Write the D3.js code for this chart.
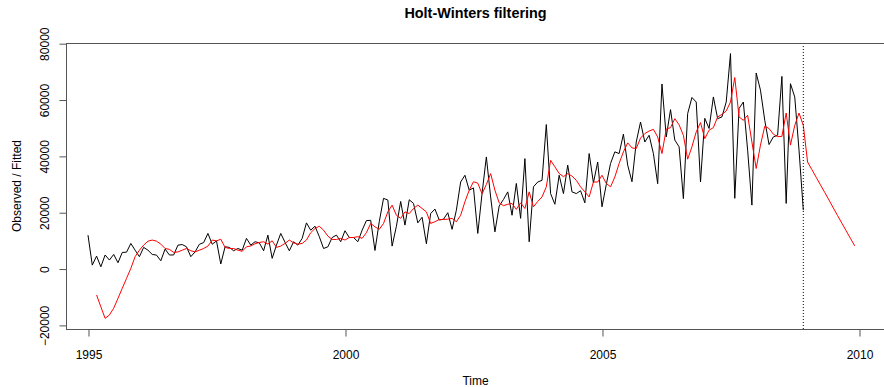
<!DOCTYPE html>
<html>
<head>
<meta charset="utf-8">
<script src="https://cdn.jsdelivr.net/npm/d3@7"></script>
<style>
  html, body { margin: 0; padding: 0; background: #fff; }
  svg { display: block; }
  text { font-family: "Liberation Sans", Arial, sans-serif; fill: #000; }
</style>
</head>
<body>
<svg id="chart" width="884" height="387"></svg>
<script>
// Monthly observations, Jan 1995 – Dec 2008 (one row per year)
const observed = [
  12050, 1400, 4600, 800, 5000, 3200, 5200, 2250, 5900, 6000, 9100, 6700,
  4400, 7700, 6700, 5200, 4950, 2950, 7100, 5000, 5000, 8500, 8700, 7900,
  4400, 6100, 8800, 9400, 12650, 8800, 10000, 1800, 7900, 7700, 6500, 7300,
  6700, 10900, 8500, 9700, 9300, 6500, 12050, 3800, 8500, 12650, 9500, 6500,
  9700, 8500, 10900, 16400, 13800, 15200, 11500, 7300, 7900, 11200, 12050, 9700,
  13600, 11200, 11200, 9700, 13800, 17200, 17300, 6600, 16800, 25100, 24500, 8150,
  15200, 24000, 15600, 24600, 23300, 16400, 18400, 9000, 19700, 21300, 17400, 17700,
  20000, 14100, 20900, 30900, 33300, 28000, 28800, 12650, 26800, 39800, 25600, 13200,
  22400, 24700, 27400, 19100, 30400, 18000, 39200, 9700, 29200, 30900, 31500, 51300,
  26800, 23000, 33300, 26800, 36900, 27400, 26800, 27800, 23500, 41000, 30600, 38000,
  22100, 30000, 37500, 41600, 41000, 47900, 36900, 31000, 45100, 52200, 45100, 47500,
  41000, 30300, 65700, 46900, 56600, 45800, 43400, 25000, 55200, 60900, 59300, 30900,
  53500, 49900, 61100, 53400, 54000, 59300, 76500, 25100, 57000, 59300, 42200, 22700,
  69600, 63500, 52800, 44200, 46900, 47500, 68400, 23300, 65800, 61100, 42200, 20900
];
const observedStart = 1995;

// Holt-Winters fitted values, Mar 1995 – Dec 2008
const fitted = [
  -9200, -13400, -17500, -16300, -13900, -10400, -6850, -3300, 250, 4400,
  6700, 8500, 9900, 10300, 9900, 8850, 7300, 7000, 5900, 6100, 6700, 7300,
  6500, 6100, 6700, 7300, 8150, 10300, 10000, 10600, 7700, 7300, 7300, 6700,
  6300, 7900, 8200, 9000, 9450, 9700, 8850, 10050, 7700, 8150, 9100, 10300,
  9300, 8850, 9100, 10300, 12900, 14400, 15200, 13800, 11700, 10500, 10500, 10900,
  10300, 11200, 11200, 11500, 10900, 12900, 16200, 15000, 14100, 16200, 20300, 22700,
  19100, 18000, 20300, 19700, 21500, 22700, 21500, 20300, 16200, 16800, 17600, 17600,
  17700, 18000, 16800, 19100, 23900, 28000, 31000, 30500, 26700, 30000, 33900, 28000,
  23500, 22500, 23000, 23300, 21200, 23500, 21500, 27400, 22100, 24000, 25600, 29200,
  38600, 36300, 33900, 32800, 33900, 33000, 31500, 29200, 27400, 25600, 30900, 30900,
  33300, 30400, 29200, 32700, 37500, 41600, 44800, 43000, 42800, 46500, 48100, 49000,
  49600, 46900, 41000, 49700, 50200, 53400, 51200, 47500, 39000, 43400, 48700, 52000,
  46300, 49300, 50200, 54000, 54900, 56100, 59300, 68000, 54000, 52800, 54600, 45100,
  35700, 44000, 50700, 49900, 47900, 47000, 47100, 55400, 44000, 51000, 55400, 51000
];
const fittedStart = 1995 + 2 / 12;

// Forecast, Jan 2009 – Dec 2009
const predicted = [38000, 35300, 32600, 29900, 27200, 24500, 21700, 19000, 16300, 13600, 10900, 8260];
const predictedStart = 2009;

const xTicks = [1995, 2000, 2005, 2010];
const yTicks = [-20000, 0, 20000, 40000, 60000, 80000];

const svg = d3.select("#chart");
const plot = { left: 66, right: 885, top: 43, bottom: 329 };

const x = d3.scaleLinear().domain([1994.572, 2010.506]).range([plot.left, plot.right]);
const y = d3.scaleLinear().domain([-21277, 80248]).range([plot.bottom, plot.top]);

const toPoints = (vals, start) => vals.map((v, i) => ({ t: start + i / 12, v }));
const obsPts = toPoints(observed, observedStart);
const fitPts = toPoints(fitted, fittedStart).concat(toPoints(predicted, predictedStart));

const line = d3.line().x(d => x(d.t)).y(d => y(d.v));

// Series
svg.append("path").datum(obsPts)
  .attr("d", line).attr("fill", "none").attr("stroke", "#000").attr("stroke-width", 1);
svg.append("path").datum(fitPts)
  .attr("d", line).attr("fill", "none").attr("stroke", "#ff0000").attr("stroke-width", 1);

// End of observed data
const tEnd = observedStart + (observed.length - 1) / 12;
svg.append("line")
  .attr("x1", x(tEnd)).attr("x2", x(tEnd))
  .attr("y1", plot.top).attr("y2", plot.bottom)
  .attr("stroke", "#000").attr("stroke-width", 1).attr("stroke-dasharray", "1,2");

// Plot box
svg.append("rect")
  .attr("x", plot.left + 0.5).attr("y", plot.top + 0.5)
  .attr("width", plot.right - plot.left).attr("height", plot.bottom - plot.top)
  .attr("fill", "none").attr("stroke", "#555").attr("stroke-width", 1);

// Axes
const xAxis = d3.axisBottom(x).tickValues(xTicks).tickFormat(d3.format("d")).tickSizeOuter(0).tickSize(7).tickPadding(14);
const gx = svg.append("g").attr("transform", `translate(0.5,${plot.bottom + 0.5})`).call(xAxis);
gx.select(".domain").remove();
gx.selectAll("line").attr("stroke", "#555");
gx.selectAll("text").style("font-size", "12px");

const gy = svg.append("g").attr("transform", `translate(${plot.left + 0.5},0.5)`);
gy.selectAll("line.tick").data(yTicks).enter().append("line")
  .attr("class", "tick")
  .attr("x1", -7).attr("x2", 0)
  .attr("y1", d => y(d)).attr("y2", d => y(d))
  .attr("stroke", "#555");
gy.selectAll("text.tick").data(yTicks).enter().append("text")
  .attr("class", "tick")
  .attr("transform", d => `translate(-18,${y(d)}) rotate(-90)`)
  .attr("text-anchor", "middle")
  .style("font-size", "12px")
  .text(d => d3.format("d")(d));

// Titles
svg.append("text")
  .attr("x", (plot.left + plot.right) / 2).attr("y", 18)
  .attr("text-anchor", "middle")
  .style("font-size", "14.4px").style("font-weight", "bold")
  .text("Holt-Winters filtering");

svg.append("text")
  .attr("x", (plot.left + plot.right) / 2).attr("y", 385)
  .attr("text-anchor", "middle")
  .style("font-size", "12px")
  .text("Time");

svg.append("text")
  .attr("transform", `translate(21,${(plot.top + plot.bottom) / 2}) rotate(-90)`)
  .attr("text-anchor", "middle")
  .style("font-size", "12px")
  .text("Observed / Fitted");
</script>
</body>
</html>
